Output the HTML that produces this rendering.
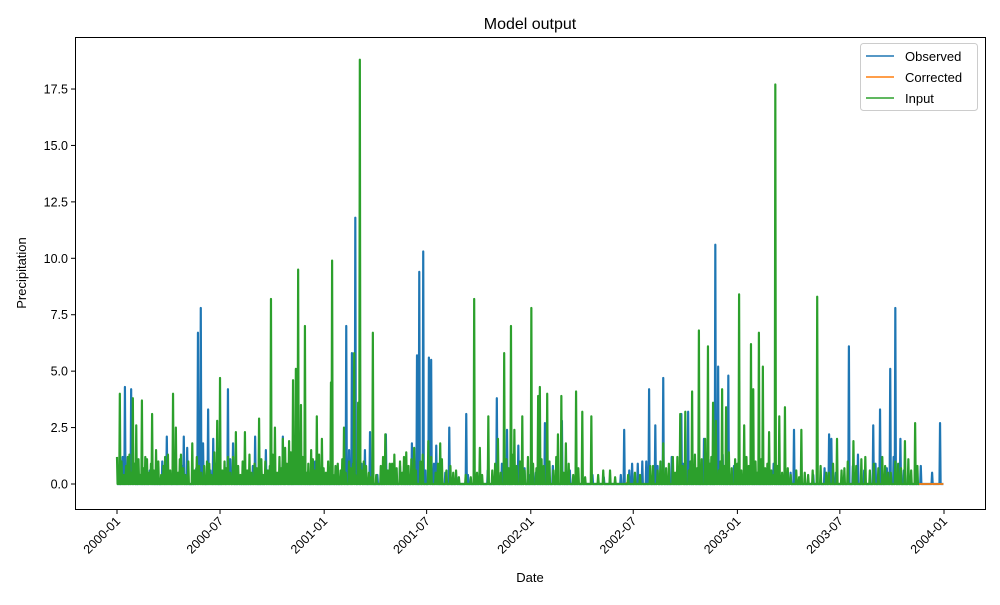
<!DOCTYPE html>
<html><head><meta charset="utf-8"><style>
body{margin:0;background:#fff;font-family:"Liberation Sans",sans-serif}
svg text{font-family:"Liberation Sans",sans-serif;fill:#000}
</style></head><body>
<svg id="chart" width="1000" height="600" viewBox="0 0 1000 600">
<rect x="0" y="0" width="1000" height="600" fill="#fff"/>
<text x="530" y="29" font-size="16" text-anchor="middle">Model output</text>
<g id="series"></g>
<rect x="75.5" y="37.5" width="910" height="472" fill="none" stroke="#000" stroke-width="1"/>
<g id="yticks"></g>
<g id="xticks"></g>
<text x="530" y="582" font-size="13" text-anchor="middle">Date</text>
<text transform="translate(26,273) rotate(-90)" font-size="13" text-anchor="middle">Precipitation</text>
<g>
<rect x="860.5" y="43.5" width="117" height="67" rx="3" fill="#fff" stroke="#ccc"/>
<line x1="866" y1="56" x2="894" y2="56" stroke="#1f77b4" stroke-width="1.5"/>
<text x="905" y="61" font-size="13">Observed</text>
<line x1="866" y1="77" x2="894" y2="77" stroke="#ff7f0e" stroke-width="1.5"/>
<text x="905" y="82" font-size="13">Corrected</text>
<line x1="866" y1="98" x2="894" y2="98" stroke="#2ca02c" stroke-width="1.5"/>
<text x="905" y="103" font-size="13">Input</text>
</g>
</svg>
<script>
const nDays = 1461;
const inputDays = [0,5,19,28,34,44,53,62,69,85,99,104,113,133,145,159,177,182,196,210,226,251,272,279,293,304,311,316,320,325,332,343,353,362,378,380,390,401,410,419,426,429,440,452,474,482,507,525,550,571,599,631,641,656,673,684,696,702,716,732,744,747,760,779,785,793,811,822,838,859,871,903,924,942,965,982,995,1004,1016,1028,1039,1044,1053,1058,1069,1076,1099,1108,1120,1124,1134,1141,1152,1163,1170,1180,1209,1237,1253,1272,1301,1322,1362,1392,1410,1421,1426,1438,1449,1454];
const inputVals = [1.2,4.0,1.2,3.8,2.6,3.7,1.1,3.1,1.5,1.2,4.0,2.5,1.3,1.8,0.8,1.0,2.8,4.7,1.2,2.3,2.3,2.9,8.2,2.5,2.0,1.9,4.6,5.1,9.5,3.5,7.0,1.5,3.0,2.0,4.5,9.9,0.9,2.5,1.0,5.8,3.6,18.8,0.8,6.7,2.2,0.9,1.2,1.6,1.9,1.8,0.6,8.2,1.6,3.0,2.0,5.8,7.0,2.4,3.0,7.8,3.9,4.3,4.0,2.2,3.9,1.8,4.1,3.2,3.0,0.6,0.6,0.4,0.4,0.8,1.8,1.2,3.1,3.2,4.1,6.8,2.0,6.1,3.6,2.8,4.2,3.4,8.4,2.6,6.2,4.2,6.7,5.2,2.3,17.7,3.0,3.4,2.4,8.3,0.5,2.0,1.9,1.2,0.5,1.9,2.7,2.7,2.4,6.0,2.0,0.4];
const inputMinorDays = [2,8,12,16,22,25,31,38,41,47,50,57,60,65,73,78,82,90,94,101,108,111,117,121,126,137,141,149,154,163,167,172,186,190,193,200,205,214,218,222,230,234,238,243,247,255,258,262,266,270,275,283,287,290,297,300,307,314,318,323,328,335,338,346,349,357,365,369,373,382,386,395,398,404,413,417,421,432,436,445,449,458,466,470,478,486,490,494,500,504,511,515,520,528,536,540,552,555,563,567,574,582,589,594,604,616,625,636,645,663,668,678,688,692,700,706,712,720,726,735,741,750,754,764,771,776,789,798,806,815,827,850,880,915,947,955,960,970,975,986,990,999,1010,1013,1021,1025,1033,1047,1050,1063,1066,1073,1081,1086,1092,1096,1103,1112,1116,1128,1131,1138,1145,1149,1156,1160,1167,1175,1185,1190,1200,1205,1215,1221,1229,1243,1258,1265,1280,1285,1291,1306,1315,1330,1337,1345,1352,1357,1367,1375,1380,1385,1398,1403,1414,1418,1431,1434,1444];
const inputMinorVals = [0.6,1.0,0.4,0.8,1.3,0.5,0.9,1.1,0.4,0.7,1.2,0.5,0.9,0.6,1.0,0.4,0.8,1.3,0.6,0.9,0.5,1.1,0.7,0.4,1.0,0.6,1.2,0.5,0.8,0.9,0.4,1.4,0.6,1.0,0.7,0.5,1.2,0.8,0.4,1.0,0.6,1.3,0.5,0.9,0.7,1.1,0.4,1.0,0.6,0.8,1.3,0.5,1.2,0.7,1.6,0.9,1.4,0.6,1.0,0.8,1.2,0.5,0.9,1.1,0.6,1.3,0.7,0.5,1.0,0.4,0.8,0.6,1.1,0.5,0.7,0.9,0.4,0.6,1.0,0.5,0.3,0.4,0.8,1.2,0.6,0.9,1.3,0.7,1.0,0.5,1.4,0.8,1.1,0.6,1.0,1.3,0.7,1.2,0.5,0.9,1.1,0.6,0.8,0.5,0.3,0.4,0.3,0.5,0.4,0.6,0.9,0.5,1.1,0.7,1.3,0.8,1.0,0.6,1.2,0.9,0.7,1.1,0.8,1.0,0.6,1.2,0.5,0.9,0.4,0.7,0.3,0.4,0.3,0.5,0.8,0.6,1.0,0.7,0.9,0.5,1.2,0.8,0.6,1.0,1.3,0.7,1.1,0.9,1.2,0.6,1.0,0.8,1.4,0.7,1.1,0.9,0.6,1.2,0.8,1.0,0.5,1.1,0.7,0.9,0.6,0.4,0.8,0.5,0.7,0.4,0.6,0.3,0.5,0.4,0.6,0.8,0.5,0.9,0.6,0.7,1.0,0.8,1.1,0.6,0.9,0.7,1.2,0.8,0.5,1.0,0.9,0.7,1.1,0.6,0.8];
const obsDays = [14,25,88,118,143,148,161,170,196,205,244,263,293,405,415,421,438,447,475,521,530,534,541,551,555,564,587,617,671,689,709,730,756,786,896,910,928,940,951,965,997,1009,1037,1057,1062,1080,1196,1258,1262,1293,1309,1336,1348,1366,1375,1384,1398,1454];
const obsVals = [4.3,4.2,2.1,2.1,6.7,7.8,3.3,2.0,4.2,1.8,2.1,1.5,2.1,7.0,5.8,11.8,1.5,2.3,2.2,1.8,5.7,9.4,10.3,5.6,5.5,1.7,2.5,3.1,3.8,2.4,1.7,0.4,2.7,2.8,2.4,0.9,1.0,4.2,2.6,4.7,3.1,3.2,2.0,10.6,5.2,4.8,2.4,2.2,2.0,6.1,1.3,2.6,3.3,5.1,7.8,2.0,0.7,2.7];
const obsMinorDays = [10,18,30,40,58,80,92,115,124,140,146,152,165,175,188,200,215,240,268,300,330,350,400,410,418,426,432,460,480,500,525,545,560,580,600,620,640,655,680,700,720,740,770,800,840,860,890,905,920,935,955,980,1000,1020,1045,1060,1070,1090,1120,1160,1190,1230,1250,1270,1300,1320,1340,1360,1372,1390,1420,1440];
const obsMinorVals = [1.2,0.5,0.9,0.4,0.6,1.0,0.5,0.8,1.6,0.7,2.0,1.8,0.6,0.9,0.5,1.1,0.4,0.8,0.6,0.5,0.9,1.0,0.7,1.5,1.8,1.2,0.9,0.4,0.6,0.8,1.0,0.6,0.9,0.5,0.3,0.4,0.3,0.6,0.9,1.1,0.7,0.5,0.8,0.6,0.4,0.3,0.4,0.6,0.9,1.0,0.8,1.2,0.9,0.7,1.1,1.5,1.3,0.8,0.6,0.9,0.5,0.4,0.7,0.5,0.8,0.6,0.9,0.7,1.2,0.6,0.8,0.5];
const correctedDays = [30,150,300,420,540,700,900,1050,1150,1300,1400];
const correctedVals = [0.05,0.08,0.06,0.1,0.07,0.05,0.04,0.08,0.06,0.05,0.07];
const yTicks = [0,2.5,5,7.5,10,12.5,15,17.5];
const xTickDays = [0,182,366,547,731,912,1096,1277,1461];
const xTickLabels = ["2000-01","2000-07","2001-01","2001-07","2002-01","2002-07","2003-01","2003-07","2004-01"];

const NS="http://www.w3.org/2000/svg";
const xS = d => 117 + d*(827/1461);
const yS = v => 484 - v*22.57;
function series(lists){
  const a = new Array(nDays).fill(0);
  lists.forEach(([days,vals])=>days.forEach((d,i)=>{ if(d>=0&&d<nDays) a[d]=Math.max(a[d],vals[i]); }));
  return a;
}
function draw(arr, color, name, w){
  let p="";
  for(let i=0;i<arr.length;i++) p += (i?"L":"M")+xS(i).toFixed(2)+","+yS(arr[i]).toFixed(2);
  const el=document.createElementNS(NS,"path");
  el.setAttribute("d",p);el.setAttribute("fill","none");el.setAttribute("stroke",color);el.setAttribute("stroke-width",w);el.setAttribute("stroke-linejoin","round");
  
  
  document.getElementById("series").appendChild(el);
}
draw(series([[obsDays,obsVals],[obsMinorDays,obsMinorVals]]),"#1f77b4","observed-line",2.2);
draw(series([[correctedDays,correctedVals]]),"#ff7f0e","corrected-line",1.8);
draw(series([[inputDays,inputVals],[inputMinorDays,inputMinorVals]]),"#2ca02c","input-line",2.2);

const yg=document.getElementById("yticks");
yTicks.forEach(v=>{
  const y=yS(v);
  const l=document.createElementNS(NS,"line");
  l.setAttribute("x1",71);l.setAttribute("x2",75);l.setAttribute("y1",y);l.setAttribute("y2",y);l.setAttribute("stroke","#000");
  
  
  yg.appendChild(l);
  const t=document.createElementNS(NS,"text");
  t.setAttribute("x",68);t.setAttribute("y",y+4.5);t.setAttribute("font-size","12.5");t.setAttribute("text-anchor","end");
  t.textContent=v.toFixed(1);
  
  
  yg.appendChild(t);
});
const xg=document.getElementById("xticks");
xTickDays.forEach((d,i)=>{
  const x=xS(d);
  const l=document.createElementNS(NS,"line");
  l.setAttribute("x1",x);l.setAttribute("x2",x);l.setAttribute("y1",510);l.setAttribute("y2",514);l.setAttribute("stroke","#000");
  
  
  xg.appendChild(l);
  const t=document.createElementNS(NS,"text");
  t.setAttribute("transform","translate("+(x+4)+",522) rotate(-45)");
  t.setAttribute("font-size","12.5");t.setAttribute("text-anchor","end");
  t.textContent=xTickLabels[i];
  
  
  xg.appendChild(t);
});
</script>
</body></html>
